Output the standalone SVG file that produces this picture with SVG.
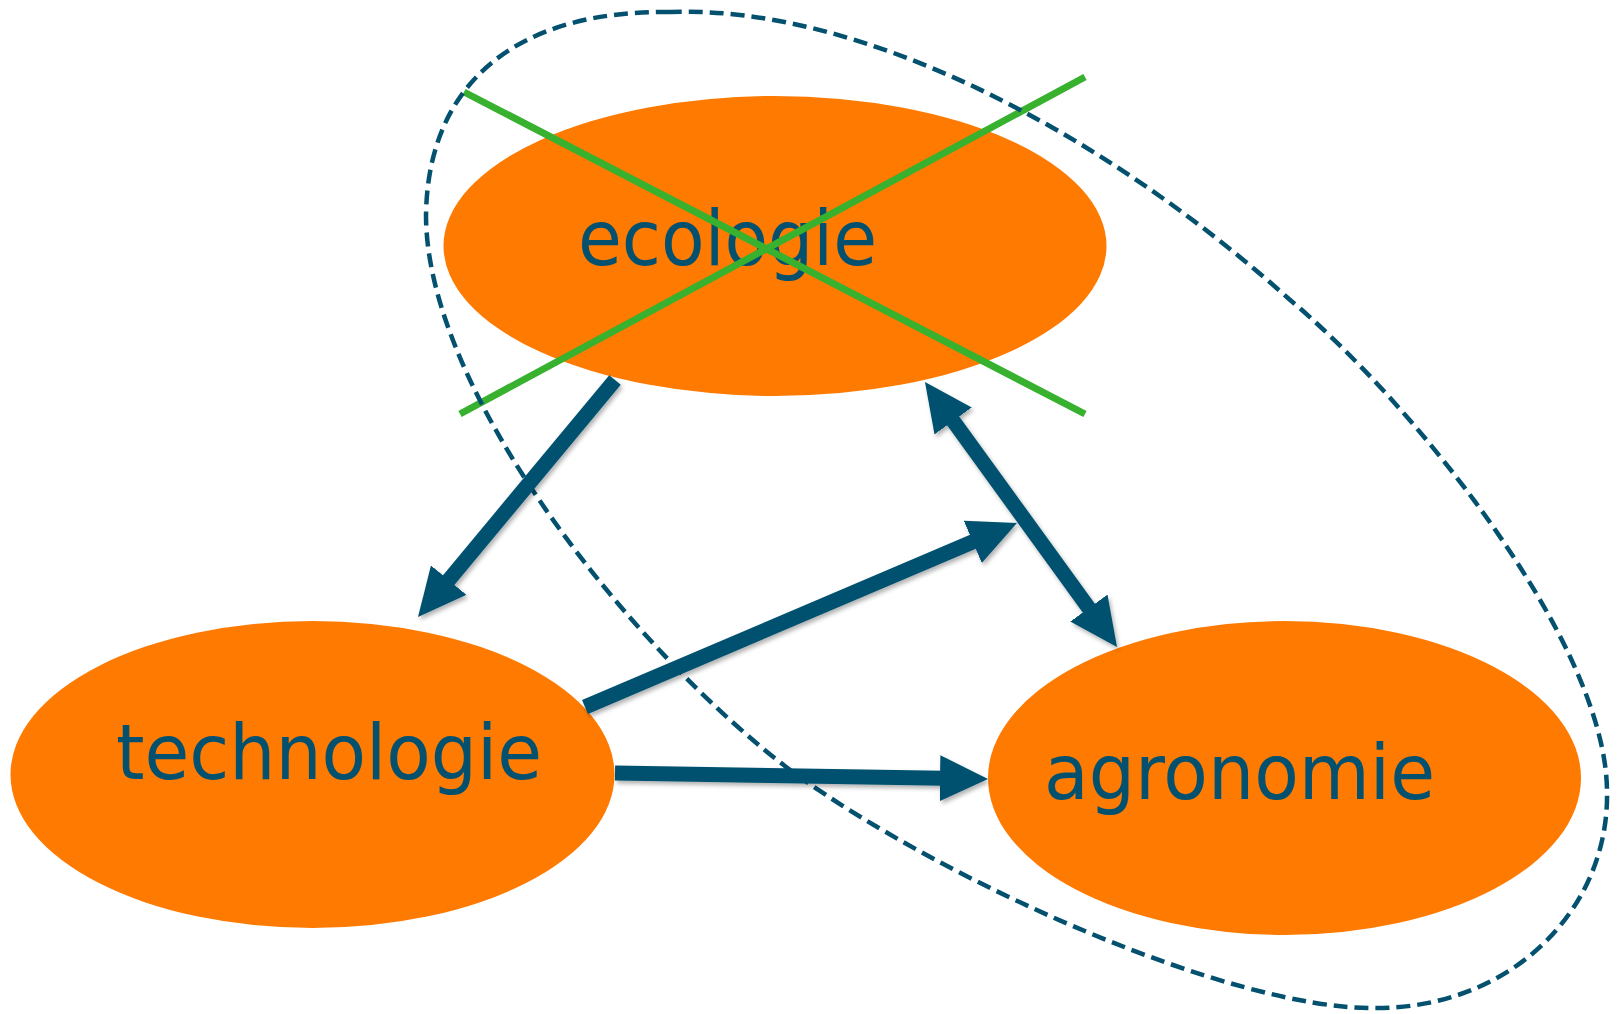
<svg xmlns="http://www.w3.org/2000/svg" width="1617" height="1014" viewBox="0 0 1617 1014">
<style>
.node{fill:#fe7a00}
.lbl{font-family:"DejaVu Sans","Liberation Sans",sans-serif;fill:#03516f}
.cross{stroke:#38b12f;stroke-width:7;fill:none}
.group{stroke:#03516f;stroke-width:4.5;fill:none;stroke-dasharray:14 7}
.arrow{stroke:#03516f;stroke-width:15;fill:none}
</style>
<defs>
<marker id="ah" markerUnits="userSpaceOnUse" markerWidth="48" markerHeight="46" refX="20" refY="23" orient="auto-start-reverse" viewBox="0 0 48 46">
<path d="M0,0 L48,23 L0,46 Z" fill="#03516f"/>
</marker>
<filter id="sh" x="-20%" y="-20%" width="140%" height="140%">
<feDropShadow dx="2" dy="3" stdDeviation="2" flood-color="#000" flood-opacity="0.3"/>
</filter>
</defs>
<g id="node-ecologie">
<ellipse class="node" cx="775" cy="246" rx="331.5" ry="150"/>
<text class="lbl" x="578" y="265" font-size="77" textLength="299" lengthAdjust="spacingAndGlyphs">ecologie</text>
</g>
<g id="node-technologie">
<ellipse class="node" cx="312.5" cy="774.5" rx="302" ry="153.5"/>
<text class="lbl" x="116" y="779" font-size="77" textLength="426" lengthAdjust="spacingAndGlyphs">technologie</text>
</g>
<g id="node-agronomie">
<ellipse class="node" cx="1284.5" cy="778" rx="296.5" ry="157"/>
<text class="lbl" x="1044" y="799" font-size="77" textLength="391" lengthAdjust="spacingAndGlyphs">agronomie</text>
</g>
<g id="cross-out">
<line class="cross" x1="464" y1="92" x2="1085" y2="414"/>
<line class="cross" x1="460" y1="414" x2="1085" y2="77"/>
</g>
<g id="grouping">
<path class="group" d="M670,12 C520,10 428,80 426,215 C426,390 630,650 794,773 C950,885 1230,1008 1372,1008 C1510,1010 1610,910 1607,790 C1605,640 1410,400 1289,299 C1100,130 860,5 670,12 Z"/>
</g>
<g id="connectors" filter="url(#sh)">
<line class="arrow" x1="615" y1="380" x2="435.9" y2="595.5" marker-end="url(#ah)"/>
<line class="arrow" x1="941.4" y1="404.7" x2="1100.6" y2="624.3" marker-start="url(#ah)" marker-end="url(#ah)"/>
<line class="arrow" x1="585" y1="707" x2="991.2" y2="534" marker-end="url(#ah)"/>
<line class="arrow" x1="615" y1="773" x2="960" y2="778.5" marker-end="url(#ah)"/>
</g>
</svg>
